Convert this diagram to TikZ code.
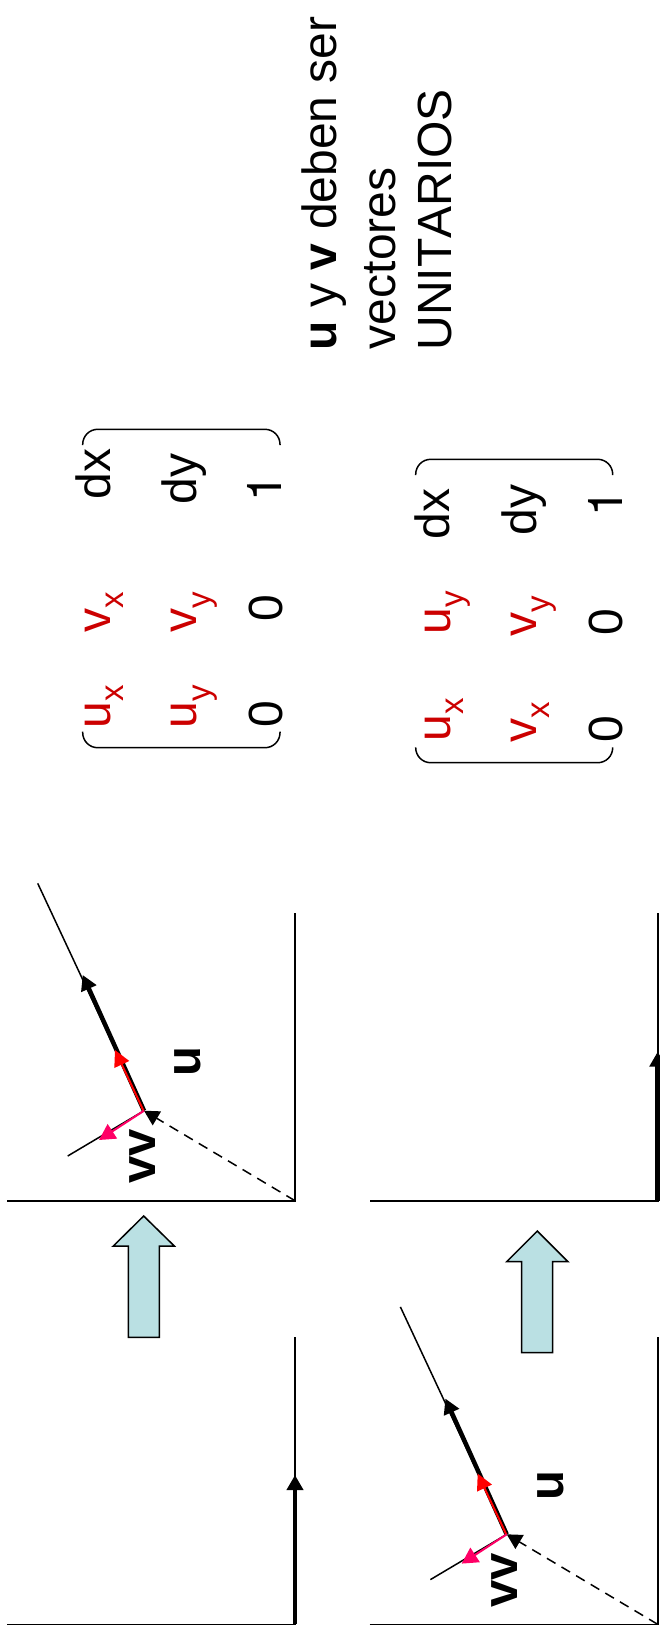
\documentclass[tikz,border=0pt]{standalone}
\usepackage{fontspec}
\setmainfont[Kerning=Off]{Liberation Sans}
\newfontfamily\onefont{TeX Gyre Heros}
\usetikzlibrary{arrows.meta,calc}
\definecolor{matred}{HTML}{CC0000}
\definecolor{pinkv}{HTML}{FF0066}
\definecolor{tealfill}{HTML}{BAE0E3}
\newcommand{\subx}[1]{\raisebox{-13.3pt}{\fontsize{33pt}{33pt}\selectfont #1}}
\tikzset{
  axisline/.style={black,line width=1.6pt},
  thinline/.style={black,line width=1.5pt},
  thickvec/.style={black,line width=4.5pt,-{Triangle[length=15pt,width=16pt]}},
  dashvec/.style={black,line width=1.5pt,dash pattern=on 10pt off 7pt,-{Triangle[length=15pt,width=16pt]}},
  redvec/.style={red,line width=2pt,-{Triangle[length=16pt,width=16pt]}},
  pinkvec/.style={pinkv,line width=2pt,-{Triangle[length=16pt,width=17pt]}},
  blockarrow/.style={draw=black,fill=tealfill,line width=1.5pt,line join=miter},
  bracketline/.style={black,line width=1.5pt,rounded corners=15pt},
  txt/.style={rotate=90,anchor=base west,inner sep=0pt,outer sep=0pt,font=\fontsize{48pt}{48pt}\selectfont},
  txtred/.style={txt,text=matred},
  block/.style={rotate=90,anchor=base west,inner sep=0pt,outer sep=0pt,font=\fontsize{48pt}{48pt}\selectfont},
  veclabel/.style={rotate=90,inner sep=0pt,outer sep=0pt,font=\fontsize{49pt}{49pt}\selectfont\bfseries}
}
% #1 name prefix, #2 x shift, #3 y shift
\newcommand{\vecgroup}[3]{
  \begin{scope}[shift={(#2,#3)}]
    \coordinate (#1o) at (295,1200.7);
    \coordinate (#1xe) at (7,1200.7);
    \coordinate (#1ye) at (295,913);
    \coordinate (#1p) at (144,1110.7);
    \coordinate (#1far) at (37.7,883.3);
    \coordinate (#1ut) at (82.7,975);
    \coordinate (#1rt) at (115,1050);
    \coordinate (#1pt) at (99,1140);
    \coordinate (#1vf) at (67.7,1156);
    \draw[axisline] (#1xe) -- (#1o) -- (#1ye);
    \draw[thinline] (#1far) -- (#1p);
    \draw[thinline] (#1vf) -- (#1p);
    \draw[thickvec] (#1p) -- (#1ut);
    \draw[dashvec] (#1o) -- (#1p);
    \draw[redvec] ($(#1p)+(-0.5,0)$) -- (#1rt);
    \draw[pinkvec] (#1p) -- (#1pt);
    \node[veclabel] (#1lu) at (187.7,1061.7) {u};
    \node[veclabel] (#1lv) at (142.3,1156.5) {vv};
  \end{scope}
}
\begin{document}
\begin{tikzpicture}[x=1pt,y=-1pt]
\useasboundingbox (0,0) rectangle (660,1636);
\fill[white] (0,0) rectangle (660,1636);

% block text
\node[block] (t1) at (336.7,350) {\textbf{u} y \textbf{v} deben ser};
\node[block] (t2) at (395,349) {vectores};
\node[block] (t3) at (451.7,350.5) {UNITARIOS};

% first matrix
\coordinate (ma) at (82.7,445); \coordinate (mb) at (280,445);
\coordinate (mc) at (82.7,731.7); \coordinate (md) at (280,731.7);
\draw[bracketline] (ma) |- (180,429.3) -| (mb);
\draw[bracketline] (mc) |- (180,747.7) -| (md);
\node[txt] (a13) at (110,499.5) {dx};
\node[txt] (a23) at (196.7,504) {dy};
\node[txt] (a33) at (281.7,501) {\onefont 1};
\node[txt] (a32) at (282,621) {0};
\node[txt] (a31) at (282,727) {0};
\node[txtred] (a12) at (110,632) {v\subx{x}};
\node[txtred] (a22) at (196.7,632) {v\subx{y}};
\node[txtred] (a11) at (110,728) {u\subx{x}};
\node[txtred] (a21) at (196.7,728) {u\subx{y}};

% second matrix
\coordinate (na) at (415.7,475); \coordinate (nb) at (612.7,475);
\coordinate (nc) at (415.7,747.3); \coordinate (nd) at (612.7,747.3);
\draw[bracketline] (na) |- (514,459.3) -| (nb);
\draw[bracketline] (nc) |- (514,762.7) -| (nd);
\node[txt] (b13) at (449.3,539) {dx};
\node[txt] (b23) at (536,535) {dy};
\node[txt] (b33) at (622.3,516) {\onefont 1};
\node[txt] (b32) at (622.5,635) {0};
\node[txt] (b31) at (622.5,742) {0};
\node[txtred] (b12) at (450,634) {u\subx{y}};
\node[txtred] (b22) at (536,636) {v\subx{y}};
\node[txtred] (b11) at (450,741) {u\subx{x}};
\node[txtred] (b21) at (536,742) {v\subx{x}};

% rotated frames with vectors
\vecgroup{g}{0}{0}
\vecgroup{h}{362.7}{423.6}

% block arrows
\draw[blockarrow] (128.3,1337.3) -- (128.3,1246) -- (113.3,1246) -- (143.7,1216) -- (174.3,1246) -- (159.3,1246) -- (159.3,1337.3) -- cycle;
\draw[blockarrow] (521.7,1352.7) -- (521.7,1261.7) -- (506.7,1261.7) -- (537.3,1231) -- (568,1261.7) -- (552.7,1261.7) -- (552.7,1352.7) -- cycle;

% unrotated frames
\coordinate (co) at (295,1624.3); \coordinate (cx) at (7,1624.3);
\coordinate (cy) at (295,1336.7); \coordinate (ct) at (295,1475);
\draw[axisline] (cx) -- (co) -- (cy);
\draw[thickvec] (co) -- (ct);
\coordinate (do) at (657.7,1201); \coordinate (dx) at (370,1201);
\coordinate (dy) at (657.7,913.3); \coordinate (dt) at (657.7,1051.7);
\draw[axisline] (dx) -- (do) -- (dy);
\draw[thickvec] (do) -- (dt);
\end{tikzpicture}
\end{document}
